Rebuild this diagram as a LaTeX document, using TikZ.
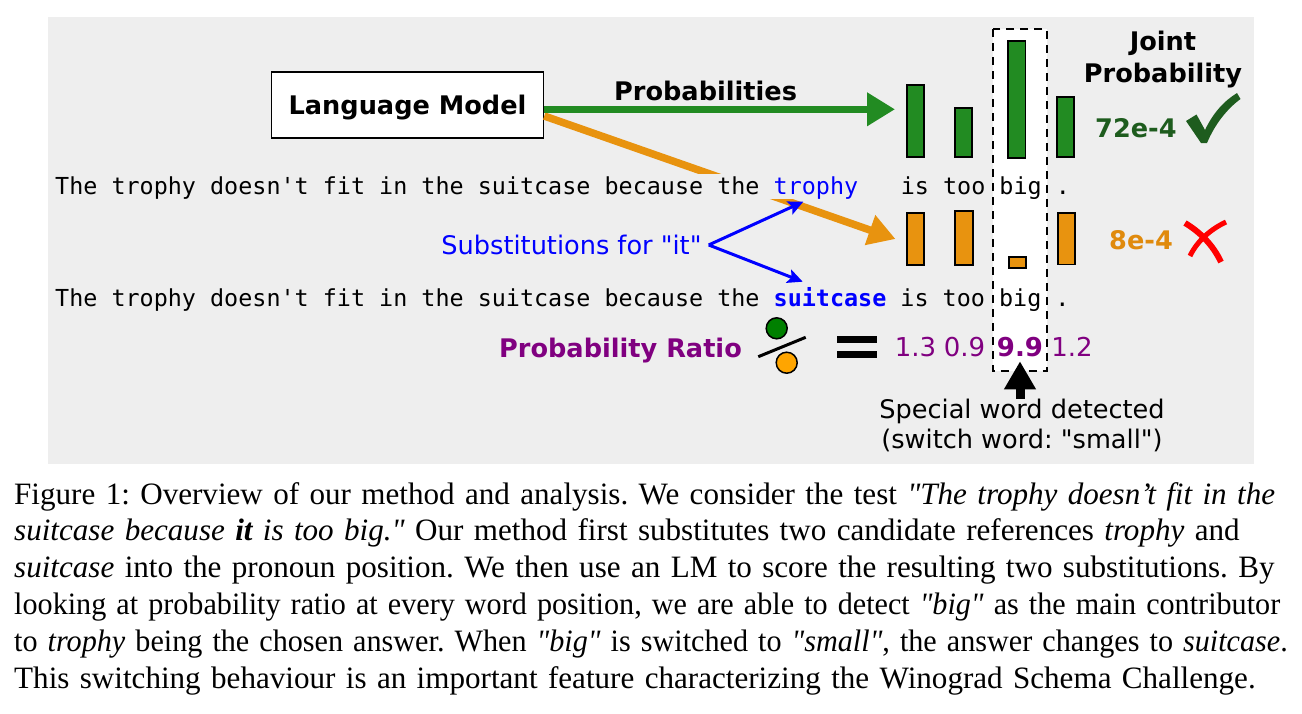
\documentclass[tikz,border=0pt]{standalone}
\usepackage{fontspec}
\usepackage{graphicx}
\usetikzlibrary{arrows.meta}
\newfontfamily\dvs{DejaVu Sans}
\newfontfamily\dvm{DejaVu Sans Mono}
\newfontfamily\capf{Liberation Serif}
\definecolor{bg}{HTML}{EEEEEE}
\definecolor{gbar}{HTML}{228B22}
\definecolor{obar}{HTML}{E8930F}
\definecolor{dgreen}{HTML}{1E5C1E}
\definecolor{purp}{HTML}{800080}
\definecolor{circg}{HTML}{008000}
\definecolor{circo}{HTML}{FFA500}
\definecolor{otext}{HTML}{E08A0C}
\frenchspacing
\tikzset{
  sans/.style={font=\dvs\fontsize{25.6}{30}\selectfont, inner sep=0pt},
  sansb/.style={font=\dvs\bfseries\fontsize{25.6}{32}\selectfont, inner sep=0pt},
  mono/.style={font=\dvm\fontsize{23.4}{28}\selectfont, inner xsep=0pt, inner ysep=0pt, anchor=base west},
  gbarstyle/.style={fill=gbar, draw=black, line width=1.8pt},
  obarstyle/.style={fill=obar, draw=black, line width=1.8pt},
  thickarrow/.style={line width=7.5pt, -{Triangle[length=28pt,width=32pt]}},
  bluearrow/.style={blue, line width=3pt, -{Stealth[length=15pt,width=14pt,inset=3pt]}},
  ratio/.style={font=\dvs\fontsize{26}{30}\selectfont, text=purp, inner sep=0pt, anchor=base},
  captext/.style={font=\capf\fontsize{31.1}{36.8}\selectfont\frenchspacing, text width=1276pt, align=left, inner sep=0pt, anchor=base west},
}
\begin{document}
\begin{tikzpicture}[x=1pt,y=-1pt]
\useasboundingbox (0,0) rectangle (1302,713);
\fill[white] (0,0) rectangle (1302,713);
\fill[bg] (48,16.8) rectangle (1253.5,464);
% highlight box
\draw[fill=white, dash pattern=on 8pt off 6pt, line width=1.8pt] (992.6,28.9) rectangle (1046.6,370.8);
% language model
\node[sansb, draw=black, fill=white, line width=1.5pt, minimum width=272pt, minimum height=66pt, text height=18.7pt, text depth=0pt] (lm) at (407.5,105) {Language Model};
\coordinate (gtip) at (895,109.3);
\coordinate (otip) at (895.5,239);
\draw[obar, line width=7.5pt, -{Triangle[length=27pt,width=30pt]}] ([yshift=-11pt]lm.east) -- (otip);
\draw[gbar, thickarrow] ([yshift=-4.3pt]lm.east) -- node[sansb, text=black, above=5pt, pos=0.46] (plab) {Probabilities} (gtip);
% bars
\draw[gbarstyle] (906.9,84.9) rectangle (924.1,156.8);
\draw[gbarstyle] (954.6,108.2) rectangle (971.8,156.8);
\draw[gbarstyle] (1007.9,40.6) rectangle (1025.4,157.8);
\draw[gbarstyle] (1056.6,97.2) rectangle (1074.1,156.8);
\draw[obarstyle] (906.6,213.2) rectangle (924.1,265.1);
\draw[obarstyle] (955.2,210.9) rectangle (972.8,264.8);
\draw[obarstyle] (1008.9,257.2) rectangle (1026.1,267.8);
\draw[obarstyle] (1057.6,212.6) rectangle (1074.8,264.4);
% sentences
\node[mono, fill=bg, text height=21pt, text depth=4pt] (s1) at (55,194.5) {The trophy doesn't fit in the suitcase because the \textcolor{blue}{trophy}};
\node[mono] (s1b) at (s1.base east) {~~~is too big .};
\node[mono] (s2) at (55,306) {The trophy doesn't fit in the suitcase because the \textcolor{blue}{\bfseries suitcase} is too big .};
% substitutions
\node[sans, text=blue, anchor=base] (subst) at (571.5,254.5) {Substitutions for "it"};
\coordinate (ttip) at (803.3,201.7);
\coordinate (stip) at (802.7,281.7);
\draw[bluearrow] ([xshift=7pt]subst.east) -- (ttip);
\draw[bluearrow] ([xshift=7pt]subst.east) -- (stip);
% joint probability
\node[sansb, align=center, anchor=north] (jp) at (1163,31.2) {Joint\\Probability};
\node[sansb, text=dgreen, anchor=base west] (jg) at (1095,137.3) {72e-4};
\node[sansb, text=otext, anchor=base west] (jo) at (1109,249.3) {8e-4};
\fill[dgreen] (1186,121) -- (1196.5,114.5) -- (1205,130) .. controls (1213,113) and (1224,101) .. (1237,93) -- (1240.5,99) .. controls (1227,109) and (1215,124) .. (1207,143) -- (1201,143) -- cycle;
\draw[red, line width=6pt] (1185,223) .. controls (1200,232) and (1213,245) .. (1221,262);
\draw[red, line width=5pt] (1226,222) .. controls (1211,229) and (1197,241) .. (1190,256);
% ratio
\node[sansb, text=purp, anchor=base] (pr) at (620.5,357) {Probability Ratio};
\draw[line width=1.5pt, fill=circg] (776.7,328.3) circle[radius=10.5pt];
\draw[line width=1.5pt, fill=circo] (786.7,362.7) circle[radius=10.5pt];
\draw[line width=3pt] (758.3,356.7) -- (805.7,337.3);
\fill (836.7,336) rectangle (876.7,342.7);
\fill (836.7,350.7) rectangle (876.7,357.7);
\node[ratio] (r1) at (915.5,356.7) {1.3};
\node[ratio] (r2) at (964.5,356.7) {0.9};
\node[ratio, font=\dvs\bfseries\fontsize{26}{30}\selectfont] (r3) at (1020,356.7) {9.9};
\node[ratio] (r4) at (1072,356.7) {1.2};
% special word
\node[sans, align=center, anchor=north] (spec) at (1022,398.5) {Special word detected\\(switch word: "small")};
\draw[line width=9pt, -{Triangle[length=28pt,width=30pt]}] (spec.north -| r3.south) -- ([yshift=-4pt]r3.south);
% caption
\node[captext] (cap) at (14,504) {%
\makebox[1276pt][s]{Figure 1: Overview of our method and analysis. We consider the test \textit{"The trophy doesn’t fit in the}}\\
\makebox[1276pt][s]{\textit{suitcase because \textbf{it} is too big."} Our method first substitutes two candidate references \textit{trophy} and}\\
\makebox[1276pt][s]{\textit{suitcase} into the pronoun position. We then use an LM to score the resulting two substitutions. By}\\
\scalebox{0.97}[1]{\makebox[1315.5pt][s]{looking at probability ratio at every word position, we are able to detect \textit{"big"} as the main contributor}}\\
\scalebox{0.97}[1]{\makebox[1315.5pt][s]{to \textit{trophy} being the chosen answer. When \textit{"big"} is switched to \textit{"small"}, the answer changes to \textit{suitcase}.}}\\
This switching behaviour is an important feature characterizing the Winograd Schema Challenge.};
\end{tikzpicture}
\end{document}
